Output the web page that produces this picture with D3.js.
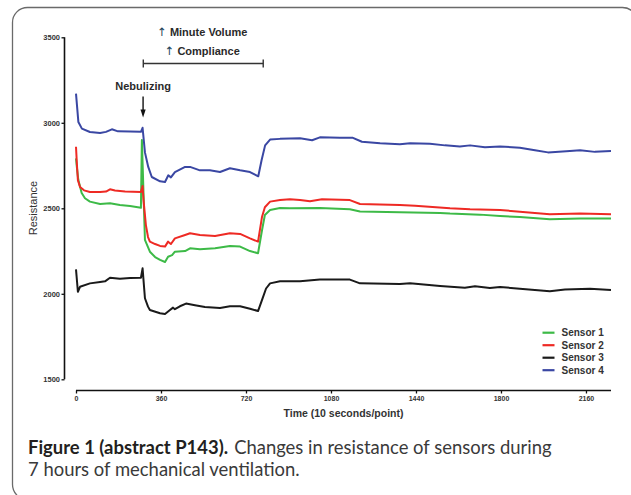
<!DOCTYPE html>
<html>
<head>
<meta charset="utf-8">
<script src="https://cdn.jsdelivr.net/npm/d3@7"></script>
<style>
  html, body { margin: 0; padding: 0; background: #fff; }
  svg { display: block; }
</style>
</head>
<body>
<svg id="chart" width="631" height="495"></svg>
<script>
// ---- data (time in points, resistance) ----
const seriesNames = ["Sensor 1", "Sensor 2", "Sensor 3", "Sensor 4"];
const seriesColors = ["#3dba47", "#ee2a24", "#1a1a1a", "#3a47a3"];

const sensor1 = [
  [0,2792],[4,2736],[10,2665],[24,2589],[38,2559],[59,2539],[102,2525],[144,2529],[186,2519],[229,2513],[275,2503],
  [279,2900],[292,2315],[313,2246],[335,2215],[356,2198],[377,2186],[390,2217],[407,2226],[419,2246],[462,2250],
  [483,2266],[525,2260],[589,2266],[652,2280],[695,2276],[737,2250],[771,2237],[788,2373],[800,2461],[822,2490],
  [864,2502],[906,2500],[1033,2502],[1160,2494],[1203,2481],[1372,2477],[1542,2473],[1584,2469],[1711,2463],
  [1796,2455],[1880,2449],[2007,2436],[2135,2440],[2266,2440]
];
const sensor2 = [
  [0,2860],[4,2753],[8,2665],[17,2625],[34,2605],[59,2595],[102,2595],[127,2598],[144,2611],[165,2604],[208,2598],
  [275,2595],[282,2630],[286,2548],[296,2402],[305,2332],[313,2305],[335,2291],[356,2280],[377,2276],[390,2305],
  [402,2291],[419,2324],[462,2344],[483,2354],[525,2344],[589,2338],[652,2354],[695,2350],[737,2324],[771,2305],
  [788,2451],[800,2506],[822,2539],[864,2548],[906,2553],[949,2548],[991,2541],[1042,2553],[1160,2548],[1203,2525],
  [1372,2519],[1436,2515],[1584,2500],[1669,2494],[1796,2490],[1880,2480],[2007,2465],[2135,2469],[2266,2465]
];
const sensor3 = [
  [0,2143],[8,2012],[17,2041],[59,2061],[102,2069],[123,2073],[144,2094],[186,2088],[229,2092],[275,2094],
  [282,2149],[292,1974],[305,1925],[313,1905],[356,1886],[377,1882],[398,1905],[411,1919],[419,1910],[440,1927],
  [466,1943],[504,1933],[546,1923],[610,1917],[652,1927],[695,1927],[737,1913],[771,1899],[788,1964],[805,2031],
  [822,2061],[864,2073],[949,2073],[1033,2083],[1160,2083],[1203,2061],[1372,2057],[1415,2061],[1542,2046],
  [1647,2036],[1690,2044],[1753,2034],[1796,2040],[1880,2030],[2007,2015],[2071,2025],[2177,2029],[2266,2022]
];
const sensor4 = [
  [0,3171],[10,3005],[25,2966],[59,2946],[102,2940],[127,2947],[152,2962],[178,2950],[229,2949],[275,2947],
  [282,2971],[292,2827],[306,2742],[321,2683],[356,2658],[377,2654],[391,2693],[402,2681],[419,2712],[462,2742],
  [483,2742],[525,2722],[567,2722],[610,2712],[652,2734],[695,2722],[737,2712],[772,2687],[786,2781],[801,2868],
  [822,2902],[864,2906],[949,2909],[1000,2898],[1033,2915],[1118,2912],[1173,2912],[1211,2889],[1288,2880],
  [1372,2874],[1415,2880],[1499,2877],[1563,2868],[1626,2862],[1669,2868],[1732,2857],[1796,2862],[1880,2854],
  [1944,2839],[1999,2827],[2092,2835],[2135,2839],[2198,2830],[2266,2835]
];
const seriesData = [sensor1, sensor2, sensor3, sensor4];

const xTicks = [0, 360, 720, 1080, 1440, 1800, 2160];
const yTicks = [1500, 2000, 2500, 3000, 3500];
const xDomain = [0, 2266];
const yDomain = [1500, 3500];

const nebulizeTime = 282;
const bracketRange = [285, 793];

const yTitle = "Resistance";
const xTitle = "Time (10 seconds/point)";
const annot1 = "Minute Volume";
const annot2 = "Compliance";
const annot3 = "Nebulizing";
const captionBold = "Figure 1 (abstract P143).";
const captionRest = "Changes in resistance of sensors during";
const captionLine2 = "7 hours of mechanical ventilation.";

// ---- drawing ----
const svg = d3.select("#chart");
const font = "'Liberation Sans', Arial, sans-serif";

svg.append("rect")
  .attr("x", 12.5).attr("y", 7.5).attr("width", 625).attr("height", 492)
  .attr("rx", 15).attr("ry", 15)
  .attr("fill", "none").attr("stroke", "#6a6a6a").attr("stroke-width", 1.3);

const x = d3.scaleLinear().domain(xDomain).range([76, 611]);
const y = d3.scaleLinear().domain(yDomain).range([379.3, 37.3]);

const yAxisG = svg.append("g").attr("transform", "translate(64.5,0)")
  .call(d3.axisLeft(y).tickValues(yTicks).tickSize(3).tickPadding(1.5).tickFormat(d3.format("d")));
const xAxisG = svg.append("g").attr("transform", "translate(0,390.5)")
  .call(d3.axisBottom(x).tickValues(xTicks).tickSize(3).tickPadding(2.5).tickFormat(d3.format("d")));

[yAxisG, xAxisG].forEach(g => {
  g.select(".domain").attr("stroke", "#111").attr("stroke-width", 1.6);
  g.selectAll(".tick line").attr("stroke", "#111").attr("stroke-width", 1.3);
  g.selectAll(".tick text").attr("fill", "#333").attr("font-family", font)
    .attr("font-weight", "bold");
});
yAxisG.selectAll(".tick text").attr("font-size", 7.5);
xAxisG.selectAll(".tick text").attr("font-size", 7);
yAxisG.select(".domain").attr("d", `M0,${y(yDomain[1])}V${y(yDomain[0])}`);
xAxisG.select(".domain").attr("d", `M${x(xDomain[0])},0H${x(xDomain[1])}`);

svg.append("text")
  .attr("transform", "translate(36.5,208) rotate(-90)")
  .attr("text-anchor", "middle")
  .attr("font-family", font).attr("font-size", 11).attr("fill", "#333")
  .text(yTitle);

svg.append("text")
  .attr("x", 343.5).attr("y", 417)
  .attr("text-anchor", "middle")
  .attr("font-family", font).attr("font-size", 10.5).attr("font-weight", "bold").attr("fill", "#333")
  .text(xTitle);

const line = d3.line().x(d => x(d[0])).y(d => y(d[1]));
seriesData.forEach((d, i) => {
  svg.append("path").datum(d)
    .attr("fill", "none")
    .attr("stroke", seriesColors[i])
    .attr("stroke-width", 2)
    .attr("stroke-linejoin", "round")
    .attr("d", line);
});

// legend
const legend = svg.append("g");
const legendY = [332.7, 345.2, 357.7, 370.2];
seriesNames.forEach((name, i) => {
  legend.append("line")
    .attr("x1", 542.5).attr("x2", 554.5)
    .attr("y1", legendY[i]).attr("y2", legendY[i])
    .attr("stroke", seriesColors[i]).attr("stroke-width", 2.2);
  legend.append("text")
    .attr("x", 561.5).attr("y", legendY[i]).attr("dy", "0.36em")
    .attr("font-family", font).attr("font-size", 10).attr("font-weight", "bold")
    .attr("fill", "#333")
    .text(name);
});

// annotations
const bx0 = x(bracketRange[0]), bx1 = x(bracketRange[1]);
const by = 63.5;
const ann = svg.append("g").attr("stroke", "#333").attr("stroke-width", 1.4);
ann.append("line").attr("x1", bx0).attr("x2", bx1).attr("y1", by).attr("y2", by);
ann.append("line").attr("x1", bx0).attr("x2", bx0).attr("y1", by - 4).attr("y2", by + 4);
ann.append("line").attr("x1", bx1).attr("x2", bx1).attr("y1", by - 4).attr("y2", by + 4);

const cx = (bx0 + bx1) / 2 - 1;
[[annot1, 35.5], [annot2, 54.5]].forEach(([t, yy]) => {
  const tx = svg.append("text")
    .attr("x", cx).attr("y", yy).attr("text-anchor", "middle")
    .attr("font-family", font).attr("font-size", 11).attr("font-weight", "bold").attr("fill", "#2a2a2a");
  tx.append("tspan").attr("fill", "#24445a").attr("font-family", "'DejaVu Sans', sans-serif")
    .attr("font-weight", "normal").attr("font-size", 11.5).text("\u2191");
  tx.append("tspan").text(" " + t);
});

const nx = x(nebulizeTime) + 0.5;
svg.append("text")
  .attr("x", nx).attr("y", 90).attr("text-anchor", "middle")
  .attr("font-family", font).attr("font-size", 11).attr("font-weight", "bold").attr("fill", "#2a2a2a")
  .text(annot3);
svg.append("line")
  .attr("x1", nx).attr("x2", nx).attr("y1", 96.5).attr("y2", 111)
  .attr("stroke", "#111").attr("stroke-width", 1.4);
svg.append("path")
  .attr("d", `M${nx - 2.6},109.5 L${nx + 2.6},109.5 L${nx},117.5 Z`)
  .attr("fill", "#111");

// caption: font size fitted so line 1 spans the same width as the reference
const capFont = "Lato, 'Open Sans', sans-serif";
const capX = 28, capGap = 6, capTarget = 524;
const tb = svg.append("text").attr("x", capX).attr("y", 454)
  .attr("font-family", capFont).attr("font-size", 17).attr("font-weight", "bold").attr("fill", "#231f20")
  .text(captionBold);
const tr = svg.append("text").attr("y", 454)
  .attr("font-family", capFont).attr("font-size", 17).attr("fill", "#3a3a3a")
  .text(captionRest);
const natural = tb.node().getComputedTextLength() + tr.node().getComputedTextLength();
const capSize = Math.max(14, Math.min(19, 17 * (capTarget - capGap) / natural));
tb.attr("font-size", capSize);
tr.attr("font-size", capSize);
tr.attr("x", capX + tb.node().getComputedTextLength() + capGap);
svg.append("text").attr("x", capX).attr("y", 475.5)
  .attr("font-family", capFont).attr("font-size", capSize).attr("fill", "#3a3a3a")
  .text(captionLine2);
</script>
</body>
</html>
